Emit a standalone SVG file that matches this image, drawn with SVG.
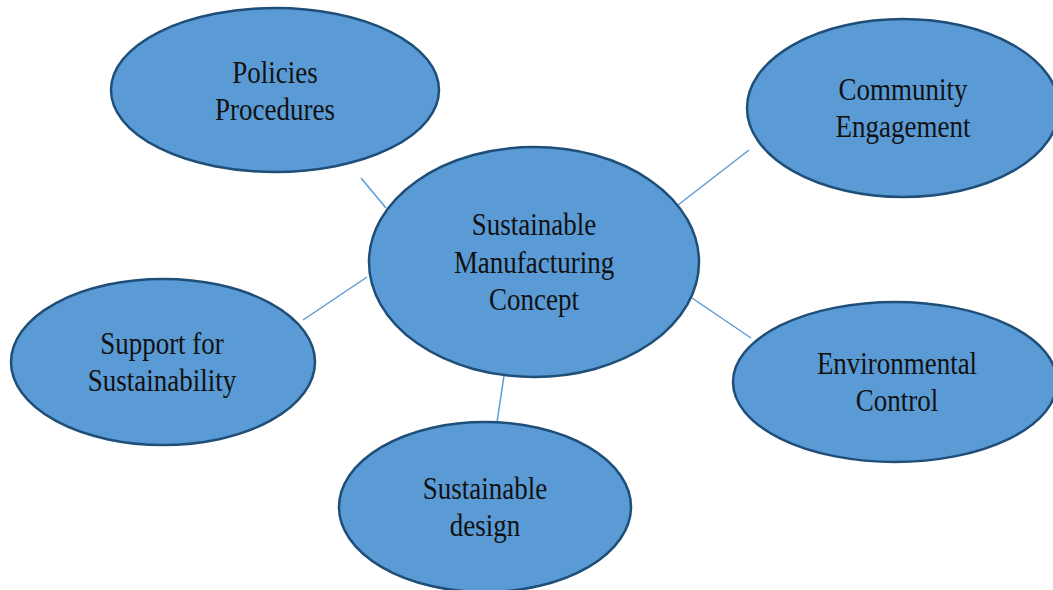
<svg xmlns="http://www.w3.org/2000/svg" width="1053" height="590" viewBox="0 0 1053 590">
<style>
.node{fill:#5B9BD5;stroke:#1F4E79;stroke-width:2.5}
.lbl{font-family:"Liberation Serif","Times New Roman",serif;font-size:31px;fill:#111;text-anchor:middle}
.conn line{stroke:#5B9BD5;stroke-width:1.5}
</style>
<rect width="1053" height="590" fill="#fff"/>
<g id="connectors" class="conn">
<line x1="361" y1="178" x2="386" y2="208"/>
<line x1="303" y1="320" x2="367" y2="277"/>
<line x1="678" y1="205" x2="749" y2="150"/>
<line x1="692" y1="298" x2="751" y2="338"/>
<line x1="504" y1="376" x2="497" y2="422"/>
</g>
<g id="policies">
<ellipse class="node" cx="275" cy="90" rx="164" ry="82"/>
<text class="lbl" transform="translate(275,83) scale(0.87,1)">Policies</text>
<text class="lbl" transform="translate(275,120) scale(0.87,1)">Procedures</text>
</g>
<g id="community">
<ellipse class="node" cx="903" cy="108" rx="156" ry="89"/>
<text class="lbl" transform="translate(903,100) scale(0.87,1)">Community</text>
<text class="lbl" transform="translate(903,137) scale(0.87,1)">Engagement</text>
</g>
<g id="support">
<ellipse class="node" cx="163" cy="362" rx="152" ry="83"/>
<text class="lbl" transform="translate(162,354) scale(0.87,1)">Support for</text>
<text class="lbl" transform="translate(162,391) scale(0.87,1)">Sustainability</text>
</g>
<g id="environmental">
<ellipse class="node" cx="895" cy="382" rx="162" ry="80"/>
<text class="lbl" transform="translate(897,374) scale(0.87,1)">Environmental</text>
<text class="lbl" transform="translate(897,411) scale(0.87,1)">Control</text>
</g>
<g id="design">
<ellipse class="node" cx="485" cy="507" rx="146" ry="85"/>
<text class="lbl" transform="translate(485,499) scale(0.87,1)">Sustainable</text>
<text class="lbl" transform="translate(485,536) scale(0.87,1)">design</text>
</g>
<g id="central">
<ellipse class="node" cx="534" cy="262" rx="165" ry="115"/>
<text class="lbl" transform="translate(534,235) scale(0.87,1)">Sustainable</text>
<text class="lbl" transform="translate(534,273) scale(0.87,1)">Manufacturing</text>
<text class="lbl" transform="translate(534,310) scale(0.87,1)">Concept</text>
</g>
</svg>
